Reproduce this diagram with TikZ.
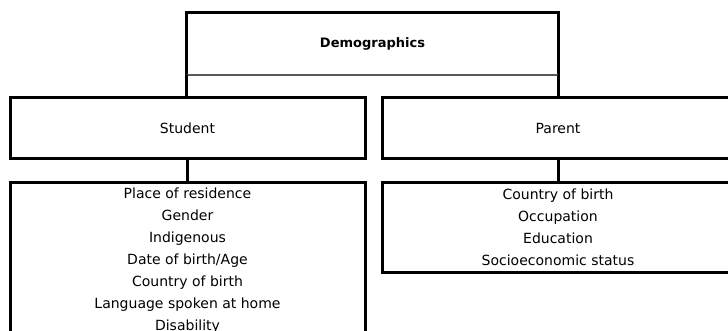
\documentclass[tikz,border=0pt]{standalone}
\usepackage{fontspec}
\setmainfont{DejaVu Sans}

\begin{document}
\begin{tikzpicture}[x=1pt, y=-1pt,
    box/.style={draw, line width=3pt, fill=white, minimum width=355pt, minimum height=61pt,
      inner sep=0pt, font=\fontsize{14}{22}\selectfont},
    listbox/.style={draw, line width=3pt, fill=white, anchor=north, inner sep=0pt, align=center,
      font=\fontsize{14}{22}\selectfont},
    link/.style={line width=3pt}]
    \useasboundingbox (0,0) rectangle (728,331);
    \clip (0,0) rectangle (728,331);

    \node [font=\bfseries\fontsize{13}{16}\selectfont, minimum width=371pt, minimum height=62pt] (demo) at (372.5,44) {Demographics};
    \draw [link] (demo.south west) |- (demo.north east) -- (demo.south east);
    \draw [line width=1.5pt, black!65] (demo.south west) -- (demo.south east);
    \draw [link] (demo.south west) -- ++(0,23) coordinate (dleft);
    \draw [link] (demo.south east) -- ++(0,23) coordinate (dright);

    \node [box] (student) at (187.5,128.5) {Student};
    \node [box, minimum width=352pt] (parent) at (558,128.5) {Parent};

    \node [listbox, minimum width=355pt, minimum height=156pt] (studentlist) at (187.5,181)
      {Place of residence\\Gender\\Indigenous\\Date of birth/Age\\Country of birth\\Language spoken at home\\Disability};
    \node [listbox, minimum width=352pt, minimum height=90pt] (parentlist) at (558,181)
      {Country of birth\\Occupation\\Education\\Socioeconomic status};

    \draw [link] (student) -- (studentlist);
    \draw [link] (parent) -- (parentlist);
\end{tikzpicture}
\end{document}
